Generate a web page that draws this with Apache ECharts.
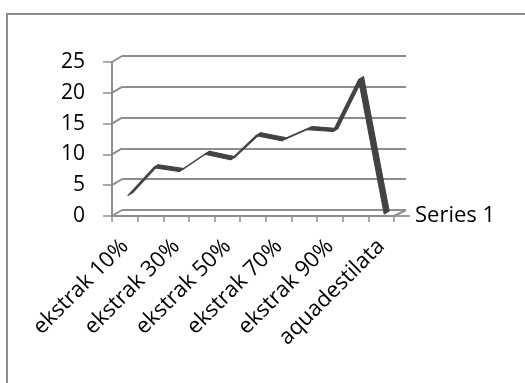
<!DOCTYPE html>
<html>
<head>
<meta charset="utf-8">
<script src="https://cdn.jsdelivr.net/npm/echarts@6/dist/echarts.min.js"></script>
<style>
  html, body { margin: 0; padding: 0; background: #fff; }
  #chart { width: 525px; height: 383px; }
</style>
</head>
<body>
<div id="chart"></div>
<script>
// Categories along the horizontal axis
const categories = [
  'ekstrak 10%', 'ekstrak 20%', 'ekstrak 30%', 'ekstrak 40%', 'ekstrak 50%',
  'ekstrak 60%', 'ekstrak 70%', 'ekstrak 80%', 'ekstrak 90%', 'ekstrak 100%',
  'aquadestilata'
];
// Values of the single series
const seriesName = 'Series 1';
const values = [3.0, 7.5, 6.9, 9.7, 8.8, 12.7, 11.9, 13.7, 13.4, 21.8, 0];
// Value axis ticks
const yTicks = [0, 5, 10, 15, 20, 25];

const FONT = 'Open Sans';
const GRID_COLOR = '#8e8e8e';
const LINE_COLOR = '#434343';
// depth of the pseudo-3D back wall
const DEPTH = [10, -6];

// consecutive value pairs -> ribbon segments
const segments = values.slice(0, -1).map((v, i) => [i, v, values[i + 1]]);

const chart = echarts.init(document.getElementById('chart'), null, { renderer: 'canvas' });

chart.setOption({
  animation: false,
  backgroundColor: '#ffffff',
  textStyle: { fontFamily: FONT },
  graphic: [{
    type: 'rect',
    shape: { x: 7, y: 14, width: 530, height: 380 },
    style: { fill: 'none', stroke: '#8c8c8c', lineWidth: 2 },
    silent: true,
    z: -10
  }],
  legend: {
    data: [{ name: seriesName, icon: 'rect', itemStyle: { color: '#9a9a9a' } }],
    left: 395,
    top: 205,
    padding: 0,
    itemWidth: 15,
    itemHeight: 2,
    itemGap: 4,
    textStyle: { fontFamily: FONT, fontSize: 22, color: '#000' }
  },
  grid: [
    { left: 112, top: 62, width: 282, height: 154 },
    { left: 112 + DEPTH[0], top: 62 + DEPTH[1], width: 284, height: 154 }
  ],
  xAxis: [{
    gridIndex: 0,
    type: 'category',
    data: categories,
    boundaryGap: true,
    axisLine: { lineStyle: { color: GRID_COLOR, width: 2 } },
    axisTick: { show: true, length: 6, interval: 0, lineStyle: { color: GRID_COLOR, width: 1.5 } },
    axisLabel: {
      interval: 1, rotate: 45, margin: 27,
      fontFamily: FONT, fontSize: 22, color: '#000'
    }
  }, {
    gridIndex: 1,
    type: 'category',
    data: categories,
    show: false
  }],
  yAxis: [{
    gridIndex: 0,
    type: 'value',
    min: 0, max: 25, interval: 5,
    axisLine: { show: true, lineStyle: { color: GRID_COLOR, width: 2 } },
    axisTick: { show: true, length: 9, lineStyle: { color: GRID_COLOR, width: 1.5 } },
    splitLine: { show: false },
    axisLabel: {
      margin: 27, fontFamily: FONT, fontSize: 21, color: '#000',
      formatter: v => yTicks.includes(v) ? String(v) : ''
    }
  }, {
    gridIndex: 1,
    type: 'value',
    min: 0, max: 25, interval: 5,
    axisLine: { show: false },
    axisTick: { show: false },
    axisLabel: { show: false },
    splitLine: { show: true, lineStyle: { color: GRID_COLOR, width: 2 } }
  }],
  series: [{
    // slanted joints between the front axis and the back wall
    type: 'custom',
    xAxisIndex: 0, yAxisIndex: 0,
    silent: true,
    data: yTicks.map(v => [0, v]),
    encode: { x: 0, y: 1 },
    renderItem: (params, api) => {
      const cs = params.coordSys;
      const y = api.coord([0, api.value(1)])[1];
      const children = [{
        type: 'line',
        shape: { x1: cs.x, y1: y, x2: cs.x + DEPTH[0], y2: y + DEPTH[1] },
        style: { stroke: GRID_COLOR, lineWidth: 2 }
      }];
      if (api.value(1) === 0) {
        const xr = cs.x + cs.width;
        children.push({
          type: 'line',
          shape: { x1: xr, y1: y, x2: xr + DEPTH[0] + 2, y2: y + DEPTH[1] },
          style: { stroke: GRID_COLOR, lineWidth: 2 }
        });
      }
      return { type: 'group', children };
    },
    z: 1
  }, {
    // the series drawn as a ribbon with depth
    name: seriesName,
    type: 'custom',
    xAxisIndex: 0, yAxisIndex: 0,
    itemStyle: { color: LINE_COLOR },
    data: segments,
    encode: { x: 0, y: [1, 2] },
    renderItem: (params, api) => {
      const i = api.value(0);
      const a = api.coord([i, api.value(1)]);
      const b = api.coord([i + 1, api.value(2)]);
      const f = [3, -2], g = [8, -5];
      return {
        type: 'polygon',
        shape: { points: [
          [a[0] + f[0], a[1] + f[1]], [b[0] + f[0], b[1] + f[1]],
          [b[0] + g[0], b[1] + g[1]], [a[0] + g[0], a[1] + g[1]]
        ] },
        style: { fill: LINE_COLOR, stroke: LINE_COLOR, lineWidth: 1.1, lineJoin: 'round' }
      };
    },
    z: 3
  }]
});
</script>
</body>
</html>
